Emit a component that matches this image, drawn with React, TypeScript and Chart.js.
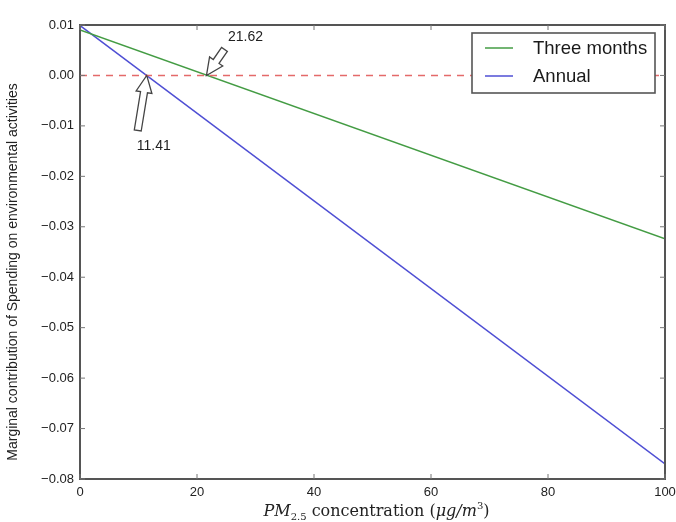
import React, { useEffect, useRef } from "react";
import { Chart, registerables } from "chart.js";

Chart.register(...registerables);

// ---- data ----
const pmValues = [0, 100];
const threeMonths = [0.009, -0.0324];
const annual = [0.0099, -0.077];
const zeroLine = [0, 0];
const seriesNames = ["Three months", "Annual"];
const crossingValues = [21.62, 11.41];
const crossingLabels = ["21.62", "11.41"];
const xTickStep = 20;
const yTickStep = 0.01;

const GREEN = "#449c44";
const BLUE = "#4f4fd4";
const RED = "#e46a6a";
const FRAME = "#555";

function drawArrow(ctx: CanvasRenderingContext2D, tx: number, ty: number, fx: number, fy: number) {
  const dx = tx - fx;
  const dy = ty - fy;
  const len = Math.hypot(dx, dy);
  const ux = dx / len;
  const uy = dy / len;
  const px = -uy;
  const py = ux;
  const shaft = 3.5;
  const head = 8;
  const headLen = 17;
  const bx = tx - ux * headLen;
  const by = ty - uy * headLen;
  ctx.beginPath();
  ctx.moveTo(fx + px * shaft, fy + py * shaft);
  ctx.lineTo(bx + px * shaft, by + py * shaft);
  ctx.lineTo(bx + px * head, by + py * head);
  ctx.lineTo(tx, ty);
  ctx.lineTo(bx - px * head, by - py * head);
  ctx.lineTo(bx - px * shaft, by - py * shaft);
  ctx.lineTo(fx - px * shaft, fy - py * shaft);
  ctx.closePath();
  ctx.fillStyle = "#fff";
  ctx.fill();
  ctx.strokeStyle = "#444";
  ctx.lineWidth = 1.3;
  ctx.stroke();
}

const decorPlugin = {
  id: "decor",
  afterDatasetsDraw(chart: any) {
    const ctx: CanvasRenderingContext2D = chart.ctx;
    const xs = chart.scales.x;
    const ys = chart.scales.y;
    const offsets = [
      { tail: [18, -26], text: [39, -38] },
      { tail: [-9, 55], text: [7, 71] },
    ];
    ctx.save();
    crossingValues.forEach((v, i) => {
      const tx = xs.getPixelForValue(v);
      const ty = ys.getPixelForValue(0);
      const o = offsets[i];
      drawArrow(ctx, tx, ty, tx + o.tail[0], ty + o.tail[1]);
      ctx.fillStyle = "#222";
      ctx.font = "14px 'Liberation Sans', Arial, sans-serif";
      ctx.textAlign = "center";
      ctx.textBaseline = "middle";
      ctx.fillText(crossingLabels[i], tx + o.text[0], ty + o.text[1]);
    });
    ctx.restore();
  },
  afterDraw(chart: any) {
    const ctx: CanvasRenderingContext2D = chart.ctx;
    const { left, right, top, bottom } = chart.chartArea;
    const xs = chart.scales.x;
    const ys = chart.scales.y;
    ctx.save();
    // frame
    ctx.strokeStyle = FRAME;
    ctx.lineWidth = 2;
    ctx.strokeRect(left, top, right - left, bottom - top);
    // inward ticks
    ctx.lineWidth = 1;
    ctx.strokeStyle = "#777";
    const tl = 5;
    xs.ticks.forEach((t: any) => {
      const x = xs.getPixelForValue(t.value);
      ctx.beginPath();
      ctx.moveTo(x, bottom);
      ctx.lineTo(x, bottom - tl);
      ctx.moveTo(x, top);
      ctx.lineTo(x, top + tl);
      ctx.stroke();
    });
    ys.ticks.forEach((t: any) => {
      const y = ys.getPixelForValue(t.value);
      ctx.beginPath();
      ctx.moveTo(left, y);
      ctx.lineTo(left + tl, y);
      ctx.moveTo(right, y);
      ctx.lineTo(right - tl, y);
      ctx.stroke();
    });
    // legend
    const lx = 472, ly = 33, lw = 183, lh = 60;
    ctx.fillStyle = "#fff";
    ctx.fillRect(lx, ly, lw, lh);
    ctx.strokeStyle = FRAME;
    ctx.lineWidth = 1.6;
    ctx.strokeRect(lx, ly, lw, lh);
    const colors = [GREEN, BLUE];
    seriesNames.forEach((name, i) => {
      const y = ly + 15 + i * 28;
      ctx.strokeStyle = colors[i];
      ctx.lineWidth = 1.5;
      ctx.beginPath();
      ctx.moveTo(lx + 13, y);
      ctx.lineTo(lx + 41, y);
      ctx.stroke();
      ctx.fillStyle = "#1a1a1a";
      ctx.font = "18.5px 'Liberation Sans', Arial, sans-serif";
      ctx.textAlign = "left";
      ctx.textBaseline = "middle";
      ctx.fillText(name, lx + 61, y + 1);
    });
    // y-axis title
    ctx.save();
    ctx.translate(13, 272);
    ctx.rotate(-Math.PI / 2);
    ctx.fillStyle = "#222";
    ctx.font = "14px 'Liberation Sans', Arial, sans-serif";
    ctx.textAlign = "center";
    ctx.textBaseline = "middle";
    ctx.fillText("Marginal contribution of Spending on environmental activities", 0, 0);
    ctx.restore();
    // x-axis title (math-like)
    const base = 16;
    const sub = 10;
    const parts: { t: string; f: string; dy: number }[] = [
      { t: "PM", f: `italic ${base}px 'DejaVu Serif', serif`, dy: 0 },
      { t: "2.5", f: `${sub}px 'DejaVu Serif', serif`, dy: 4 },
      { t: " concentration (", f: `${base}px 'DejaVu Serif', serif`, dy: 0 },
      { t: "μg/m", f: `italic ${base}px 'DejaVu Serif', serif`, dy: 0 },
      { t: "3", f: `${sub}px 'DejaVu Serif', serif`, dy: -7 },
      { t: ")", f: `${base}px 'DejaVu Serif', serif`, dy: 0 },
    ];
    let total = 0;
    parts.forEach((p) => {
      ctx.font = p.f;
      total += ctx.measureText(p.t).width;
    });
    let cx = (left + right) / 2 + 4 - total / 2;
    const by = 516;
    ctx.fillStyle = "#222";
    ctx.textAlign = "left";
    ctx.textBaseline = "alphabetic";
    parts.forEach((p) => {
      ctx.font = p.f;
      ctx.fillText(p.t, cx, by + p.dy);
      cx += ctx.measureText(p.t).width;
    });
    ctx.restore();
  },
};

function fmtY(v: number) {
  if (Math.abs(v) < 1e-9) return "0.00";
  const s = Math.abs(v).toFixed(2);
  return v < 0 ? "\u2212" + s : s;
}

export default function App() {
  const ref = useRef<HTMLCanvasElement | null>(null);
  useEffect(() => {
    if (!ref.current) return;
    const toPts = (ys: number[]) => pmValues.map((x, i) => ({ x, y: ys[i] }));
    const chart = new Chart(ref.current, {
      type: "line",
      data: {
        datasets: [
          { label: "zero", data: toPts(zeroLine), borderColor: RED, borderWidth: 1.5, borderDash: [7, 6], pointRadius: 0, fill: false },
          { label: seriesNames[0], data: toPts(threeMonths), borderColor: GREEN, borderWidth: 1.5, pointRadius: 0, fill: false },
          { label: seriesNames[1], data: toPts(annual), borderColor: BLUE, borderWidth: 1.5, pointRadius: 0, fill: false },
        ],
      },
      options: {
        animation: false,
        responsive: false,
        layout: { padding: { top: 25, right: 11, left: 0, bottom: 0 } },
        plugins: { legend: { display: false }, tooltip: { enabled: false } },
        scales: {
          x: {
            type: "linear",
            min: 0,
            max: 100,
            grid: { display: false, drawTicks: false, tickLength: 0 },
            border: { display: false },
            ticks: {
              stepSize: xTickStep,
              padding: 6,
              color: "#222",
              font: { family: "'Liberation Sans', Arial, sans-serif", size: 13 },
              maxRotation: 0,
            },
            afterFit: (s: any) => { s.height = 43; s.paddingLeft = 0; s.paddingRight = 0; },
          },
          y: {
            type: "linear",
            min: -0.08,
            max: 0.01,
            grid: { display: false, drawTicks: false, tickLength: 0 },
            border: { display: false },
            ticks: {
              stepSize: yTickStep,
              padding: 6,
              color: "#222",
              font: { family: "'Liberation Sans', Arial, sans-serif", size: 13 },
              callback: (v: any) => fmtY(Number(v)),
            },
            afterFit: (s: any) => { s.width = 80; s.paddingTop = 0; s.paddingBottom = 0; },
          },
        },
      },
      plugins: [decorPlugin],
    });
    return () => chart.destroy();
  }, []);
  return (
    <div style={{ position: "fixed", left: 0, top: 0, width: 676, height: 522, background: "#fff" }}>
      <canvas ref={ref} width={676} height={522} style={{ width: 676, height: 522, display: "block" }} />
    </div>
  );
}
